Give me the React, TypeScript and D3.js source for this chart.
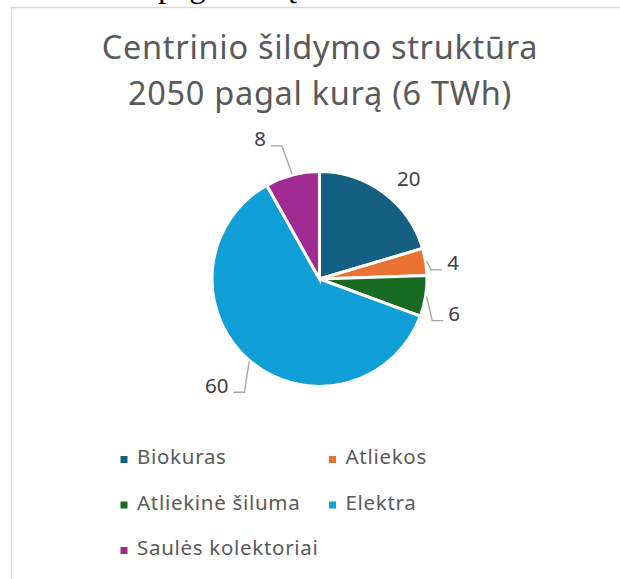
import React from 'react';
import * as d3 from 'd3';

const categories = ['Biokuras', 'Atliekos', 'Atliekinė šiluma', 'Elektra', 'Saulės kolektoriai'];
const values = [20, 4, 6, 60, 8];
const colors = ['#156082', '#E97132', '#196B24', '#0F9ED5', '#A02B93'];
const titleLines = ['Centrinio šildymo struktūra', '2050 pagal kurą (6 TWh)'];
const clippedDocText = 'pagal kurą';

// data label placement (polar: degrees clockwise from 12 o'clock, radius in px)
const labelAngles = [41.8, 83.2, 104.5, 224.0, 337.0];
const labelRadii = [134, 134.5, 139, 148, 152];
const labelLeaders = [false, true, true, true, true];

const W = 620;
const H = 579;
const FONT = "'Noto Sans', 'Open Sans', sans-serif";
const TEXT = '#595959';

export default function App() {
  const cx = 319.5;
  const cy = 279;
  const R = 107.5;

  const pie = d3.pie<number>().sort(null).value((d) => d)(values);
  const arc = d3.arc<d3.PieArcDatum<number>>().innerRadius(0).outerRadius(R);

  const labelFont = 20.5;
  const capH = labelFont * 0.714;

  const polar = (deg: number, r: number): [number, number] => {
    const a = (deg * Math.PI) / 180;
    return [cx + r * Math.sin(a), cy - r * Math.cos(a)];
  };

  const legendCols = [120.5, 329];
  const legendRow0 = 464;
  const legendRowStep = 45.5;
  const markerSize = 7;

  return (
    <svg
      width={W}
      height={H}
      style={{ position: 'absolute', left: 0, top: 0, background: '#fff' }}
    >
      <rect x={0} y={0} width={W} height={H} fill="#fff" />
      {/* clipped document text above the chart */}
      <text
        x={158}
        y={-3}
        fontFamily="'Liberation Serif', 'Times New Roman', serif"
        fontSize={33}
        fill="#000"
      >
        {clippedDocText}
      </text>
      {/* chart area border */}
      <rect
        x={11.5}
        y={7.5}
        width={W + 20}
        height={H + 20}
        fill="#fff"
        stroke="#d9d9d9"
        strokeWidth={1.5}
      />
      {/* title */}
      {titleLines.map((t, i) => (
        <text
          key={i}
          x={320}
          y={59 + i * 46}
          textAnchor="middle"
          fontFamily={FONT}
          fontSize={32.5}
          letterSpacing={0.7}
          fill={TEXT}
        >
          {t}
        </text>
      ))}
      {/* pie */}
      <g transform={`translate(${cx},${cy})`}>
        {pie.map((d, i) => (
          <path
            key={i}
            d={arc(d) || ''}
            fill={colors[i]}
            stroke="#fff"
            strokeWidth={3}
            strokeLinejoin="miter"
          />
        ))}
      </g>
      {/* leader lines and data labels */}
      {pie.map((d, i) => {
        const mid = (((d.startAngle + d.endAngle) / 2) * 180) / Math.PI;
        const [lx, ly] = polar(labelAngles[i], labelRadii[i]);
        const text = String(values[i]);
        const tw = text.length * labelFont * 0.57;
        const baseline = ly + capH / 2;
        let leader = null;
        if (labelLeaders[i]) {
          const [sx, sy] = polar(mid, R + 1);
          const right = lx > cx;
          const edge = right ? lx - tw / 2 : lx + tw / 2;
          const dir = right ? -1 : 1;
          const hEnd = edge + dir * 5;
          const elbow = edge + dir * 16;
          const hy = baseline - 0.5;
          leader = (
            <polyline
              points={`${sx},${sy} ${elbow},${hy} ${hEnd},${hy}`}
              fill="none"
              stroke="#a6a6a6"
              strokeWidth={1.4}
            />
          );
        }
        return (
          <g key={i}>
            {leader}
            <text
              x={lx}
              y={baseline}
              textAnchor="middle"
              fontFamily={FONT}
              fontSize={labelFont}
              fill="#404040"
            >
              {text}
            </text>
          </g>
        );
      })}
      {/* legend */}
      {categories.map((c, i) => {
        const col = i % 2;
        const row = Math.floor(i / 2);
        const x = legendCols[col];
        const y = legendRow0 + row * legendRowStep;
        return (
          <g key={c}>
            <rect
              x={x}
              y={y - 4.5 - markerSize / 2}
              width={markerSize}
              height={markerSize}
              fill={colors[i]}
            />
            <text
              x={x + 16.5}
              y={y}
              fontFamily={FONT}
              fontSize={20.5}
              letterSpacing={0.7}
              fill={TEXT}
            >
              {c}
            </text>
          </g>
        );
      })}
    </svg>
  );
}
